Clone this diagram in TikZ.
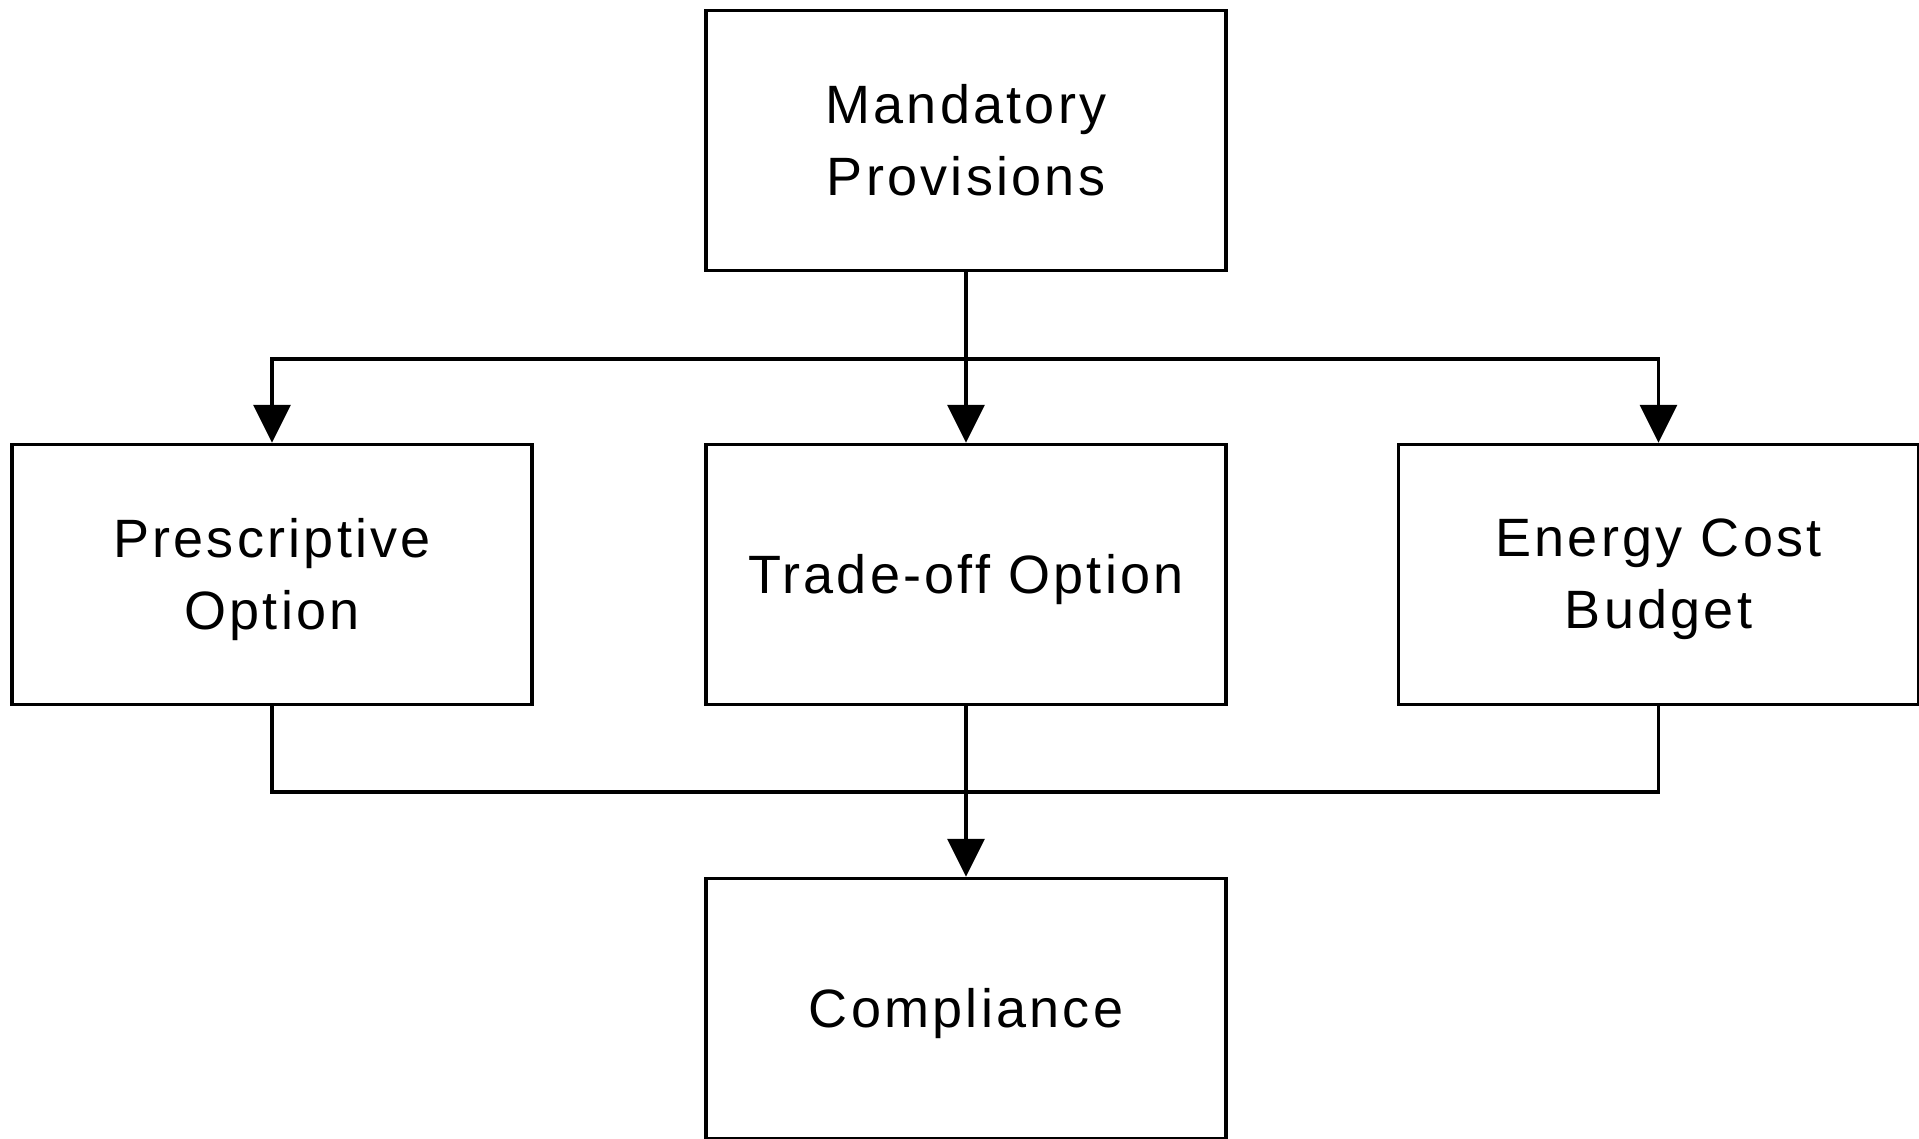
\documentclass[tikz,border=0pt]{standalone}
\usepackage{fontspec}
\setmainfont{Liberation Sans}[LetterSpace=6]
\usetikzlibrary{arrows.meta}
\begin{document}
\begin{tikzpicture}[x=1pt,y=-1pt,
  txt/.style={align=center, inner sep=0pt, font=\fontsize{54}{72}\selectfont},
  frame/.style={draw, line width=3.5pt, minimum width=520pt, minimum height=260pt,
    inner sep=0pt},
  box/.style={frame, label={[txt,yshift=-5pt]center:#1}},
  link/.style={line width=3.5pt},
  tip/.style={-{Triangle[length=38pt,width=37pt]}}]
\useasboundingbox (0,0) rectangle (1919,1139);

% boxes
\node[frame,label={[txt]center:Mandatory\\Provisions}] (mand) at (966,140.5) {};
\node[box={Prescriptive\\Option}]    (pres)  at (272,574.5)    {};
\node[box={Trade-off Option}]        (trade) at (966,574.5)    {};
\node[box={Energy Cost\\Budget}]     (ener)  at (1658.5,574.5) {};
\node[box={Compliance}]              (comp)  at (966,1008.5)   {};

% bus lines
\coordinate (busT) at (966,359);
\coordinate (busB) at (966,792);

% top distribution
\draw[link,tip] (mand.south) -- (trade.north);
\draw[link,tip] (busT) -| (pres.north);
\draw[link,tip] (busT) -| (ener.north);

% bottom collection
\draw[link] (pres.south) |- (busB);
\draw[link] (ener.south) |- (busB);
\draw[link,tip] (trade.south) -- (comp.north);
\end{tikzpicture}
\end{document}
